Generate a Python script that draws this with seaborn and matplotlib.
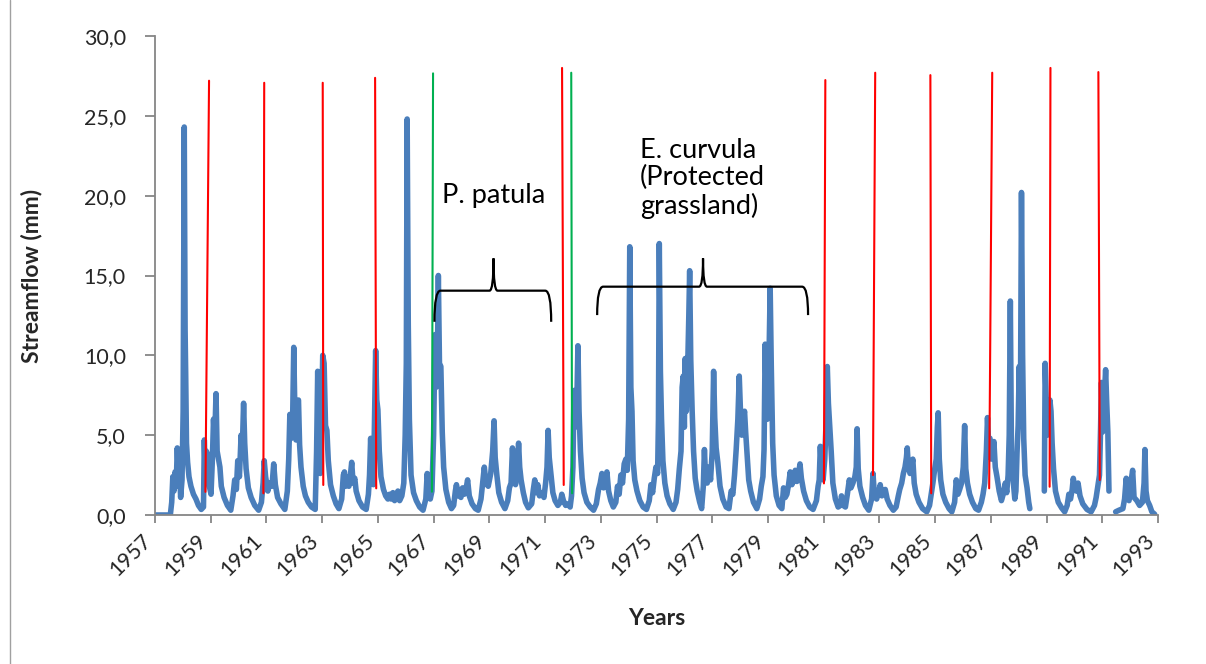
import numpy as np
import pandas as pd
import matplotlib
matplotlib.use("Agg")
import matplotlib.pyplot as plt
import seaborn as sns
from matplotlib.path import Path
from matplotlib.patches import PathPatch
from matplotlib.lines import Line2D

# ---------------- data (decimal year, streamflow mm) ----------------
flow_1957_1962 = [
    (1957.00, 0.0), (1957.55, 0.0), (1957.60, 0.8), (1957.64, 2.4), (1957.68, 1.5),
    (1957.72, 2.7), (1957.76, 1.8), (1957.80, 4.2), (1957.84, 2.4), (1957.88, 3.0),
    (1957.92, 1.1), (1957.97, 2.2), (1958.01, 6.5), (1958.05, 24.3), (1958.08, 11.6),
    (1958.10, 9.0), (1958.13, 4.5), (1958.17, 3.3), (1958.22, 2.4), (1958.29, 1.8),
    (1958.38, 1.3), (1958.47, 1.0), (1958.56, 0.6), (1958.66, 0.35), (1958.74, 0.5),
    (1958.77, 4.7), (1958.80, 2.8), (1958.84, 4.0), (1958.89, 3.8), (1958.95, 1.8),
    (1959.01, 1.3), (1959.06, 3.5), (1959.10, 6.0), (1959.14, 4.5), (1959.19, 7.6),
    (1959.23, 4.0), (1959.28, 3.5), (1959.33, 3.0), (1959.38, 1.8), (1959.48, 1.1),
    (1959.60, 0.6), (1959.72, 0.3), (1959.80, 1.2), (1959.86, 2.2), (1959.92, 1.6),
    (1959.97, 3.4), (1960.03, 2.4), (1960.09, 5.0), (1960.13, 3.9), (1960.18, 7.0),
    (1960.22, 4.5), (1960.27, 2.9), (1960.35, 1.7), (1960.45, 1.1), (1960.58, 0.6),
    (1960.72, 0.3), (1960.82, 0.8), (1960.88, 2.0), (1960.92, 3.4), (1960.97, 2.4),
    (1961.05, 1.5), (1961.12, 2.0), (1961.20, 1.8), (1961.26, 3.2), (1961.32, 1.9),
    (1961.40, 1.1), (1961.52, 0.7), (1961.66, 0.35), (1961.75, 1.5), (1961.80, 3.5),
    (1961.84, 6.3), (1961.89, 4.8), (1961.94, 6.0), (1961.98, 10.5), (1962.02, 6.5),
    (1962.06, 4.7), (1962.11, 7.0), (1962.15, 7.2), (1962.19, 4.4), (1962.24, 3.0),
    (1962.32, 1.8), (1962.40, 1.2), (1962.50, 0.8), (1962.62, 0.5), (1962.75, 0.35),
]
flow_1962_1967 = [
    (1962.80, 4.0), (1962.84, 9.0), (1962.88, 3.5), (1962.93, 2.6), (1962.98, 6.0),
    (1963.02, 10.0), (1963.07, 9.5), (1963.12, 5.6), (1963.17, 5.3), (1963.22, 3.4),
    (1963.30, 1.9), (1963.40, 1.2), (1963.50, 0.7), (1963.60, 0.4), (1963.70, 1.0),
    (1963.76, 2.5), (1963.80, 2.7), (1963.84, 1.8), (1963.90, 2.4), (1963.96, 1.8),
    (1964.02, 2.6), (1964.06, 3.3), (1964.11, 2.0), (1964.17, 2.3), (1964.22, 1.5),
    (1964.32, 0.9), (1964.45, 0.5), (1964.58, 0.35), (1964.66, 1.3), (1964.70, 2.5),
    (1964.74, 4.8), (1964.79, 2.0), (1964.84, 1.9), (1964.88, 6.0), (1964.92, 10.3),
    (1964.96, 7.2), (1965.00, 6.6), (1965.05, 4.0), (1965.11, 2.4), (1965.20, 1.6),
    (1965.28, 1.2), (1965.36, 1.0), (1965.42, 1.3), (1965.48, 1.0), (1965.54, 1.4),
    (1965.60, 0.9), (1965.66, 1.3), (1965.72, 1.5), (1965.78, 0.9), (1965.86, 1.2),
    (1965.93, 2.0), (1965.98, 5.0), (1966.02, 9.5), (1966.05, 24.8), (1966.09, 12.0),
    (1966.13, 6.0), (1966.19, 2.5), (1966.28, 1.4), (1966.38, 0.9), (1966.50, 0.5),
    (1966.62, 0.3), (1966.72, 1.0), (1966.77, 2.6), (1966.81, 1.8), (1966.88, 1.0),
    (1966.94, 1.5), (1967.00, 5.0), (1967.05, 11.3), (1967.09, 8.0), (1967.13, 9.0),
    (1967.17, 15.0), (1967.21, 9.5), (1967.26, 9.3), (1967.31, 5.2), (1967.36, 3.0),
    (1967.44, 1.6), (1967.54, 0.8), (1967.64, 0.4),
]
flow_1967_1972 = [
    (1967.72, 0.6), (1967.78, 1.5), (1967.82, 1.9), (1967.86, 1.2), (1967.92, 1.6),
    (1967.98, 1.1), (1968.04, 1.7), (1968.10, 1.3), (1968.16, 1.6), (1968.22, 2.2),
    (1968.28, 1.2), (1968.38, 0.7), (1968.50, 0.4), (1968.60, 0.3), (1968.70, 1.0),
    (1968.77, 2.2), (1968.82, 3.0), (1968.88, 2.0), (1968.96, 1.8), (1969.05, 2.6),
    (1969.12, 4.0), (1969.17, 5.9), (1969.21, 3.6), (1969.27, 2.5), (1969.34, 1.4),
    (1969.44, 0.8), (1969.56, 0.4), (1969.66, 0.9), (1969.72, 1.7), (1969.78, 2.0),
    (1969.83, 4.2), (1969.87, 2.6), (1969.94, 1.9), (1970.00, 2.6), (1970.05, 4.5),
    (1970.09, 3.0), (1970.14, 2.2), (1970.22, 1.4), (1970.30, 0.8), (1970.40, 0.45),
    (1970.52, 0.7), (1970.58, 1.6), (1970.63, 2.2), (1970.68, 1.4), (1970.74, 1.9),
    (1970.80, 1.2), (1970.88, 1.4), (1970.96, 1.1), (1971.02, 2.0), (1971.07, 3.0),
    (1971.11, 5.3), (1971.15, 3.6), (1971.21, 2.6), (1971.28, 1.4), (1971.36, 0.9),
    (1971.46, 0.6), (1971.55, 0.8), (1971.60, 1.3), (1971.66, 0.9), (1971.74, 0.6),
    (1971.82, 0.7), (1971.90, 0.5), (1971.95, 1.2), (1972.00, 3.0), (1972.04, 7.8),
    (1972.08, 5.5), (1972.13, 6.0), (1972.18, 10.6), (1972.22, 6.5), (1972.27, 4.0),
    (1972.33, 2.3), (1972.40, 1.4), (1972.50, 0.8), (1972.62, 0.5), (1972.74, 0.3),
]
flow_1972_1977 = [
    (1972.84, 0.7), (1972.92, 1.6), (1972.98, 2.0), (1973.04, 2.6), (1973.10, 1.7),
    (1973.16, 2.0), (1973.22, 2.7), (1973.28, 1.5), (1973.36, 0.9), (1973.45, 0.5),
    (1973.54, 0.8), (1973.60, 1.8), (1973.66, 1.3), (1973.72, 2.5), (1973.78, 2.0),
    (1973.84, 3.2), (1973.90, 3.5), (1973.95, 2.8), (1974.00, 6.0), (1974.04, 16.8),
    (1974.08, 8.0), (1974.12, 6.5), (1974.16, 3.4), (1974.22, 2.2), (1974.30, 1.5),
    (1974.40, 0.9), (1974.52, 0.5), (1974.64, 0.35), (1974.74, 0.9), (1974.80, 1.9),
    (1974.86, 1.4), (1974.92, 2.3), (1974.98, 3.0), (1975.04, 2.6), (1975.07, 6.0),
    (1975.10, 17.0), (1975.14, 9.0), (1975.18, 6.0), (1975.23, 3.4), (1975.30, 2.0),
    (1975.38, 1.2), (1975.48, 0.7), (1975.60, 0.35), (1975.70, 0.8), (1975.76, 1.6),
    (1975.82, 2.9), (1975.88, 4.0), (1975.92, 8.0), (1975.96, 8.7), (1976.00, 5.5),
    (1976.03, 9.8), (1976.07, 6.5), (1976.11, 8.5), (1976.16, 12.5), (1976.19, 15.3),
    (1976.23, 9.7), (1976.28, 6.5), (1976.33, 4.0), (1976.39, 2.3), (1976.46, 1.5),
    (1976.55, 0.8), (1976.62, 0.4), (1976.68, 1.8), (1976.72, 4.1), (1976.76, 2.4),
    (1976.82, 2.0), (1976.88, 3.0), (1976.94, 2.2), (1977.00, 4.0), (1977.05, 9.0),
    (1977.09, 6.1), (1977.14, 4.2), (1977.20, 3.3), (1977.28, 1.8), (1977.38, 1.0),
    (1977.50, 0.5), (1977.60, 0.4),
]
flow_1977_1982 = [
    (1977.68, 1.5), (1977.74, 1.3), (1977.80, 2.5), (1977.86, 4.1), (1977.92, 6.0),
    (1977.97, 8.7), (1978.01, 6.7), (1978.06, 5.0), (1978.11, 6.0), (1978.16, 6.5),
    (1978.20, 5.2), (1978.25, 3.8), (1978.31, 2.2), (1978.38, 1.5), (1978.48, 0.8),
    (1978.60, 0.4), (1978.70, 1.0), (1978.76, 1.8), (1978.82, 2.4), (1978.86, 4.1),
    (1978.90, 10.7), (1978.94, 7.3), (1978.98, 6.0), (1979.03, 9.0), (1979.08, 14.2),
    (1979.12, 9.3), (1979.17, 4.5), (1979.22, 2.5), (1979.30, 1.2), (1979.40, 0.6),
    (1979.50, 0.4), (1979.56, 1.7), (1979.62, 1.1), (1979.68, 1.3), (1979.74, 1.9),
    (1979.80, 2.7), (1979.86, 1.9), (1979.92, 2.2), (1979.98, 2.8), (1980.04, 2.1),
    (1980.10, 2.6), (1980.15, 3.2), (1980.20, 2.3), (1980.28, 1.5), (1980.38, 0.9),
    (1980.50, 0.5), (1980.62, 0.35), (1980.74, 0.9), (1980.80, 1.8), (1980.84, 2.2),
    (1980.88, 4.3), (1980.93, 2.6), (1980.98, 2.2), (1981.04, 3.5), (1981.09, 6.0),
    (1981.13, 9.3), (1981.17, 7.0), (1981.22, 5.5), (1981.27, 4.0), (1981.33, 2.0),
    (1981.42, 1.0), (1981.52, 0.5), (1981.60, 0.6), (1981.64, 1.2), (1981.70, 0.6),
    (1981.78, 0.5), (1981.85, 1.3), (1981.92, 2.2), (1981.98, 1.7), (1982.05, 2.0),
    (1982.12, 2.4), (1982.17, 3.0), (1982.20, 5.4), (1982.24, 2.9), (1982.30, 1.8),
    (1982.40, 1.1), (1982.50, 0.6), (1982.62, 0.3),
]
flow_1982_1988 = [
    (1982.72, 1.0), (1982.77, 2.6), (1982.82, 1.3), (1982.90, 1.0), (1982.97, 1.4),
    (1983.03, 1.9), (1983.09, 1.2), (1983.15, 1.4), (1983.21, 1.6), (1983.28, 1.0),
    (1983.38, 0.6), (1983.50, 0.3), (1983.60, 0.5), (1983.68, 1.2), (1983.73, 1.6),
    (1983.80, 2.0), (1983.86, 2.6), (1983.92, 3.0), (1983.97, 3.6), (1984.00, 4.2),
    (1984.04, 3.0), (1984.10, 2.6), (1984.15, 3.0), (1984.20, 3.5), (1984.25, 2.0),
    (1984.32, 1.3), (1984.42, 0.8), (1984.55, 0.4), (1984.70, 0.2), (1984.80, 0.6),
    (1984.86, 1.3), (1984.92, 2.0), (1984.98, 2.8), (1985.04, 3.5), (1985.08, 5.5),
    (1985.11, 6.4), (1985.15, 3.5), (1985.20, 2.2), (1985.28, 1.3), (1985.38, 0.8),
    (1985.50, 0.4), (1985.60, 0.2), (1985.70, 0.8), (1985.76, 2.2), (1985.82, 1.3),
    (1985.88, 1.6), (1985.95, 2.0), (1986.01, 3.0), (1986.06, 5.6), (1986.10, 2.9),
    (1986.16, 2.0), (1986.24, 1.3), (1986.34, 0.8), (1986.46, 0.4), (1986.56, 0.3),
    (1986.66, 0.8), (1986.72, 1.3), (1986.78, 2.0), (1986.84, 4.0), (1986.88, 6.1),
    (1986.92, 4.5), (1986.97, 4.8), (1987.02, 3.5), (1987.07, 4.0), (1987.11, 4.6),
    (1987.16, 3.0), (1987.22, 2.4), (1987.30, 1.5), (1987.38, 0.9), (1987.46, 1.4),
    (1987.52, 2.0), (1987.57, 1.4), (1987.62, 2.5), (1987.66, 5.0), (1987.70, 13.4),
    (1987.74, 4.0), (1987.78, 2.7), (1987.82, 1.8), (1987.86, 1.0), (1987.90, 1.5),
    (1987.94, 3.9), (1987.98, 5.6), (1988.02, 9.3), (1988.06, 6.0), (1988.10, 20.2),
    (1988.14, 10.0), (1988.18, 4.8), (1988.23, 2.5), (1988.30, 1.7), (1988.36, 0.8),
    (1988.40, 0.4), (1988.66, np.nan),
]
flow_1988_1993 = [
    (1988.92, 1.5), (1988.95, 9.5), (1988.99, 7.0), (1989.03, 5.0), (1989.07, 5.5),
    (1989.12, 7.2), (1989.16, 6.5), (1989.20, 4.5), (1989.25, 2.9), (1989.32, 1.5),
    (1989.42, 0.8), (1989.54, 0.45), (1989.65, 0.2), (1989.74, 0.6), (1989.80, 1.3),
    (1989.86, 1.0), (1989.92, 1.6), (1989.96, 2.3), (1990.01, 1.7), (1990.07, 1.5),
    (1990.13, 2.0), (1990.20, 1.2), (1990.30, 0.7), (1990.45, 0.35), (1990.60, 0.2),
    (1990.72, 0.6), (1990.78, 1.1), (1990.84, 1.8), (1990.90, 2.5), (1990.94, 5.5),
    (1990.97, 8.3), (1991.01, 5.2), (1991.05, 6.0), (1991.09, 8.0), (1991.12, 9.1),
    (1991.16, 7.0), (1991.20, 5.2), (1991.24, 1.5), (1991.36, np.nan),
    (1991.48, 0.2), (1991.60, 0.3), (1991.74, 0.4), (1991.80, 1.0), (1991.86, 2.3),
    (1991.90, 1.2), (1991.96, 0.9), (1992.04, 2.2), (1992.09, 2.8), (1992.14, 1.1),
    (1992.24, 0.9), (1992.34, 0.6), (1992.44, 0.8), (1992.50, 2.0), (1992.53, 4.1),
    (1992.57, 1.5), (1992.62, 0.9), (1992.70, 0.6), (1992.78, 0.2), (1992.88, 0.05),
]

# fire events (red) and land-use changes (green): start/end of each marker line
fire_top_year = [1958.94, 1960.92, 1963.02, 1964.90, 1971.61, 1981.06, 1982.85, 1984.83, 1987.05, 1989.14, 1990.86]
fire_top_flow = [27.2, 27.07, 27.07, 27.38, 28.0, 27.24, 27.7, 27.55, 27.7, 28.0, 27.74]
fire_base_year = [1958.81, 1960.89, 1963.04, 1964.94, 1971.67, 1981.01, 1982.77, 1984.86, 1986.94, 1989.11, 1990.91]
fire_base_flow = [1.45, 1.36, 1.88, 1.67, 1.88, 1.98, 2.5, 1.36, 1.67, 1.77, 2.19]
change_top_year = [1966.98, 1971.94]
change_top_flow = [27.66, 27.7]
change_base_year = [1966.94, 1971.97]
change_base_flow = [1.46, 1.36]

# period braces: start, end, middle, bar level, arm end level, tip level
brace_labels = ["P. patula", "E. curvula\n(Protected\ngrassland)"]
brace_start = [1967.03, 1972.87]
brace_end = [1971.22, 1980.44]
brace_mid = [1969.15, 1976.67]
brace_bar = [14.05, 14.3]
brace_arm = [12.1, 12.52]
brace_tip = [16.07, 16.07]

y_ticks = [0, 5, 10, 15, 20, 25, 30]
x_ticks = list(range(1957, 1994, 2))

# ---------------- figure ----------------
sns.set_style("white")
plt.rcParams["font.family"] = ["Lato", "DejaVu Sans"]

fig = plt.figure(figsize=(12.06, 6.64), dpi=100)
ax = fig.add_axes([155 / 1206, 149 / 664, 1003 / 1206, 479 / 664])

rows = (flow_1957_1962 + flow_1962_1967 + flow_1967_1972 + flow_1972_1977
        + flow_1977_1982 + flow_1982_1988 + flow_1988_1993)
df = pd.DataFrame(rows, columns=["year", "flow"])
df["seg"] = df["flow"].isna().cumsum()
df = df.dropna()

blue = "#4A7EBB"
sns.lineplot(data=df, x="year", y="flow", units="seg", estimator=None, sort=False,
             color=blue, lw=4.0, ax=ax, legend=False,
             solid_capstyle="round", solid_joinstyle="round")

for xt, yt, xb, yb in zip(fire_top_year, fire_top_flow, fire_base_year, fire_base_flow):
    ax.plot([xb, xt], [yb, yt], color="#FF0000", lw=1.5, zorder=4)
for xt, yt, xb, yb in zip(change_top_year, change_top_flow, change_base_year, change_base_flow):
    ax.plot([xb, xt], [yb, yt], color="#00B050", lw=1.5, zorder=4)

ax.set_xlim(1957, 1993)
ax.set_ylim(0, 30)

# braces (curvature sizes given in pixels, converted through the axes scale)
px_x = 36 / 1003.0
for x0, x1, xm, yb, ya, yt in zip(brace_start, brace_end, brace_mid, brace_bar, brace_arm, brace_tip):
    r = 6 * px_x
    m = 4 * px_x
    verts = [
        (x0, ya), (x0, yb), (x0 + r, yb),
        (xm - m, yb),
        (xm, yb), (xm, yt),
        (xm, yb), (xm + m, yb),
        (x1 - r, yb),
        (x1, yb), (x1, ya),
    ]
    codes = [Path.MOVETO, Path.CURVE3, Path.CURVE3, Path.LINETO,
             Path.CURVE3, Path.CURVE3, Path.CURVE3, Path.CURVE3,
             Path.LINETO, Path.CURVE3, Path.CURVE3]
    ax.add_patch(PathPatch(Path(verts, codes), fill=False, edgecolor="black", lw=1.6, zorder=5))

ax.text(1969.15, 20.0, brace_labels[0], ha="center", va="center", fontsize=19.5, color="black")
ax.text(1974.4, 21.1, brace_labels[1], ha="left", va="center", fontsize=19.5,
        color="black", linespacing=1.12)

# axes styling
gray = "#868686"
for s in ["top", "right"]:
    ax.spines[s].set_visible(False)
for s in ["left", "bottom"]:
    ax.spines[s].set_color(gray)
    ax.spines[s].set_linewidth(1.3)

ax.set_yticks(y_ticks)
ax.set_yticklabels([f"{v:.1f}".replace(".", ",") for v in y_ticks])
ax.set_xticks(x_ticks)
ax.set_xticklabels([str(v) for v in x_ticks], rotation=45, ha="right", va="top")
ax.tick_params(axis="y", direction="out", length=7, width=1.3, color=gray,
               labelsize=15.5, pad=14, left=True)
ax.tick_params(axis="x", direction="out", length=6, width=1.3, color=gray,
               labelsize=15.5, pad=5, bottom=True)

ax.set_xlabel("Years", fontsize=16.5, fontweight="bold")
ax.set_ylabel("Streamflow (mm)", fontsize=16.5, fontweight="bold")
ax.xaxis.set_label_coords(0.5, -0.217)
ax.xaxis.label.set_va("center")
ax.yaxis.set_label_coords(-0.1236, 0.5)
ax.yaxis.label.set_va("center")
ax.grid(False)

fig.add_artist(Line2D([10 / 1206, 10 / 1206], [0, 1], color="#A0A0A0", lw=1.0))

fig.savefig("out.png", dpi=100)
